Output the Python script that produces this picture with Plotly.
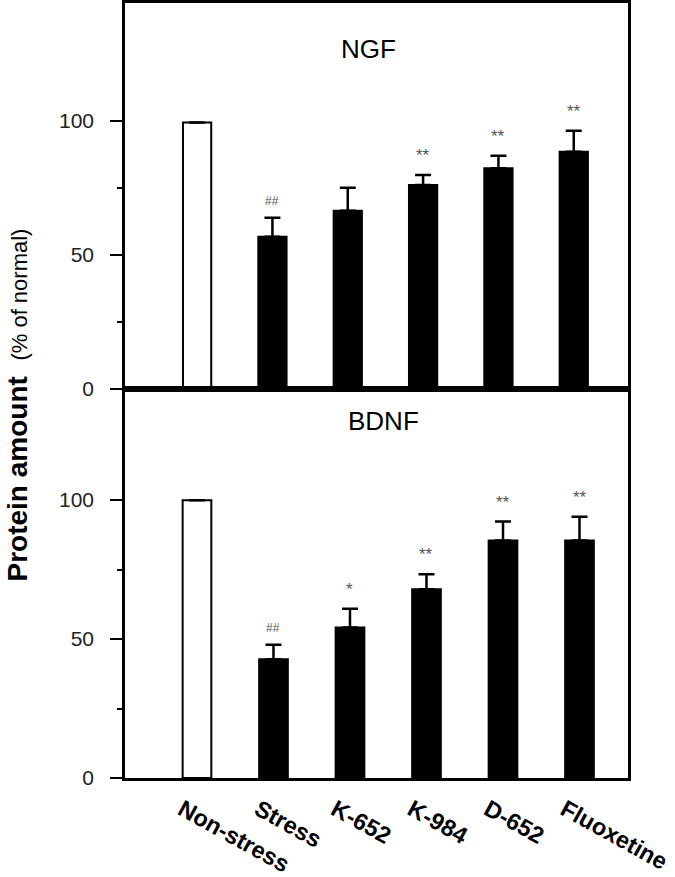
import plotly.graph_objects as go

categories = ["Non-stress", "Stress", "K-652", "K-984", "D-652", "Fluoxetine"]
ngf_mean = [99.3, 56.7, 66.4, 76.0, 82.2, 88.4]
ngf_err = [0, 7.1, 8.6, 3.7, 4.7, 7.8]
ngf_sig = ["", "##", "", "**", "**", "**"]
bdnf_mean = [100.0, 42.7, 54.2, 67.9, 85.5, 85.5]
bdnf_err = [0, 5.3, 6.7, 5.4, 6.8, 8.5]
bdnf_sig = ["", "##", "*", "**", "**", "**"]
fills = ["white", "black", "black", "black", "black", "black"]

W, H = 675, 877
L, R, T, B = 125, 47, 3, 99
PW = W - L - R
PH = H - T - B
split = (778 - 389) / PH

def px(x):
    return (x - L) / PW

def py(y):
    return (H - B - y) / PH

fig = go.Figure()

def add_panel(means, errs, xa, ya):
    fig.add_trace(go.Bar(
        x=categories, y=means, xaxis=xa, yaxis=ya, width=0.375,
        marker=dict(color=fills, line=dict(color="black", width=2)),
        error_y=dict(type="data", symmetric=False, array=errs,
                     arrayminus=[0] * len(errs), color="black",
                     thickness=2.5, width=8),
        showlegend=False, hoverinfo="skip"))

add_panel(ngf_mean, ngf_err, "x", "y")
add_panel(bdnf_mean, bdnf_err, "x2", "y2")

ann = []

def add_sig(sigs, means, errs, xr, yr):
    for c, s, m, e in zip(categories, sigs, means, errs):
        if not s:
            continue
        ann.append(dict(x=c, y=m + e, xref=xr, yref=yr, text=s, showarrow=False,
                        yanchor="bottom", yshift=8,
                        font=dict(family="Liberation Sans, Arial", size=12 if s == "##" else 17,
                                  color="#555")))

add_sig(ngf_sig, ngf_mean, ngf_err, "x", "y")
add_sig(bdnf_sig, bdnf_mean, bdnf_err, "x2", "y2")

ann.append(dict(x=px(368), y=py(32), xref="paper", yref="paper",
                text="NGF", showarrow=False,
                font=dict(family="Liberation Sans, Arial", size=26, color="black")))
ann.append(dict(x=px(383), y=py(421), xref="paper", yref="paper",
                text="BDNF", showarrow=False,
                font=dict(family="Liberation Sans, Arial", size=26, color="black")))
ann.append(dict(x=px(0), y=py(405), xref="paper", yref="paper", xanchor="left",
                borderpad=0,
                text="<b>Protein amount</b>  <span style='font-size:22px'>(% of normal)</span>",
                textangle=-90, showarrow=False,
                font=dict(family="Liberation Sans, Arial", size=28, color="black")))

yaxis_common = dict(
    tickmode="array", tickvals=[0, 50, 100], ticks="outside", ticklen=12, tickwidth=2,
    tickcolor="black", showline=True, linecolor="black", linewidth=2.5, mirror=True,
    showgrid=False, zeroline=False, ticklabelstandoff=12, automargin=False,
    tickfont=dict(family="Liberation Sans, Arial", size=21, color="#222"),
    minor=dict(tickmode="array", tickvals=[25, 75], ticks="outside", ticklen=5,
               tickwidth=2, tickcolor="black", showgrid=False),
)

fig.update_layout(
    width=W, height=H, margin=dict(l=L, r=R, t=T, b=B, autoexpand=False),
    paper_bgcolor="white", plot_bgcolor="white",
    xaxis=dict(domain=[0, 1], anchor="y", range=[-0.957, 5.72], showticklabels=False,
               ticks="", showline=True, linecolor="black", linewidth=2.5, mirror=True,
               showgrid=False, automargin=False),
    yaxis=dict(domain=[split, 1], anchor="x", range=[0, 143.8], **yaxis_common),
    xaxis2=dict(domain=[0, 1], anchor="y2", range=[-0.941, 5.634], ticks="",
                showline=True, linecolor="black", linewidth=2.5, mirror=True,
                showgrid=False, tickangle=29, ticklabelstandoff=6, ticklabelshift=-15,
                automargin=False,
                tickfont=dict(family="Liberation Sans, Arial", size=23.5, color="black",
                              weight="bold")),
    yaxis2=dict(domain=[0, split], anchor="x2", range=[0, 140], **yaxis_common),
    annotations=ann,
)

fig.write_html("out.html", config={"displayModeBar": False},
               post_script="document.body.style.margin='0';")
